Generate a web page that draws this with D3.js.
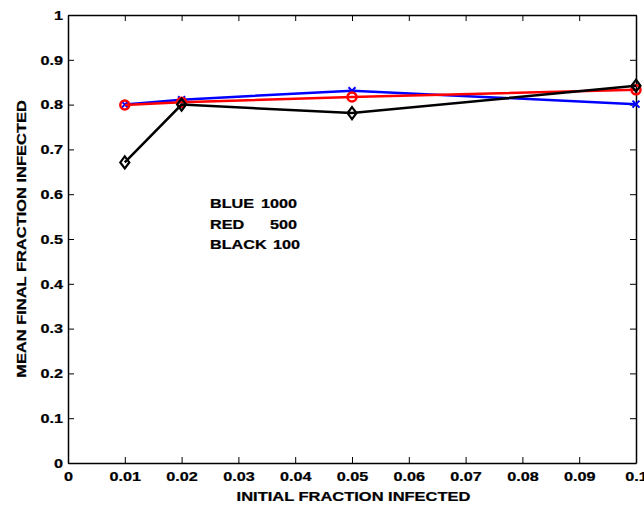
<!DOCTYPE html>
<html><head><meta charset="utf-8">
<script src="https://cdn.jsdelivr.net/npm/d3@7"></script>
<style>body{margin:0;background:#fff}svg{display:block}text{font-family:"Liberation Sans",Arial,sans-serif;font-weight:bold}</style>
</head><body>
<svg id="c" width="644" height="508"></svg>
<script>
const xValues = [0.01, 0.02, 0.05, 0.1];
const blueValues = [0.800, 0.811, 0.831, 0.801];
const redValues = [0.799, 0.805, 0.817, 0.833];
const blackValues = [0.671, 0.800, 0.781, 0.842];
const xTicks = [0,0.01,0.02,0.03,0.04,0.05,0.06,0.07,0.08,0.09,0.1];
const yTicks = [0,0.1,0.2,0.3,0.4,0.5,0.6,0.7,0.8,0.9,1];
const legendNames = ["BLUE", "RED", "BLACK"];
const legendCounts = ["1000", "500", "100"];

const svg = d3.select("#c");
const L=68, R=636, T=15, B=463;
const SX = 1.2;
const x = d3.scaleLinear().domain([0,0.1]).range([L,R]);
const y = d3.scaleLinear().domain([0,1]).range([B,T]);
const fmt = d => d===0?"0":(d===1?"1":String(+d.toFixed(2)));

const tl = 6;
const gx = svg.append("g").attr("transform",`translate(0,${B})`)
  .call(d3.axisBottom(x).tickValues(xTicks).tickFormat(fmt).tickSizeInner(-tl).tickSizeOuter(0).tickPadding(8));
const gy = svg.append("g").attr("transform",`translate(${L},0)`)
  .call(d3.axisLeft(y).tickValues(yTicks).tickFormat(fmt).tickSizeInner(-tl).tickSizeOuter(0).tickPadding(5));
const gt = svg.append("g").attr("transform",`translate(0,${T})`)
  .call(d3.axisTop(x).tickValues(xTicks).tickFormat("").tickSizeInner(-tl).tickSizeOuter(0));
const gr = svg.append("g").attr("transform",`translate(${R},0)`)
  .call(d3.axisRight(y).tickValues(yTicks).tickFormat("").tickSizeInner(-tl).tickSizeOuter(0));
[gx,gy,gt,gr].forEach(g=>{
  g.select(".domain").attr("stroke","#000").attr("stroke-width",1.5);
  g.selectAll(".tick line").attr("stroke","#000").attr("stroke-width",1);
  g.selectAll("text").attr("font-size",13.5).attr("fill","#000")
    .attr("stroke","#000").attr("stroke-width",0.25);
});
gx.selectAll(".tick text").attr("transform",`scale(${SX},1)`);
gy.selectAll(".tick text").attr("x",-5/SX).attr("transform",`scale(${SX},1)`);

const line = d3.line().x((d,i)=>x(xValues[i])).y(d=>y(d));
const series = [
  {vals: blueValues, color:"#0000ff", m:"x"},
  {vals: redValues, color:"#ff0000", m:"o"},
  {vals: blackValues, color:"#000000", m:"d"}
];
series.forEach(s=>{
  svg.append("path").datum(s.vals).attr("d",line).attr("fill","none")
    .attr("stroke",s.color).attr("stroke-width",2.5);
  s.vals.forEach((v,i)=>{
    const cx=x(xValues[i]), cy=y(v);
    if(s.m==="o") svg.append("circle").attr("cx",cx).attr("cy",cy).attr("r",4.5)
      .attr("fill","none").attr("stroke",s.color).attr("stroke-width",2.5);
    else if(s.m==="x") svg.append("path").attr("d",`M${cx-3.5},${cy-3.5}L${cx+3.5},${cy+3.5}M${cx-3.5},${cy+3.5}L${cx+3.5},${cy-3.5}`)
      .attr("stroke",s.color).attr("stroke-width",2);
    else svg.append("path").attr("d",`M${cx},${cy-6}L${cx+4.5},${cy}L${cx},${cy+6}L${cx-4.5},${cy}Z`)
      .attr("fill","none").attr("stroke",s.color).attr("stroke-width",2.2);
  });
});

const numRight = [297, 297, 300];
legendNames.forEach((t,i)=>{
  const by = 208 + i*20.5;
  svg.append("text").attr("transform",`translate(210,${by}) scale(${SX},1)`)
    .attr("font-size",13.5).attr("stroke","#000").attr("stroke-width",0.25).text(t);
  svg.append("text").attr("transform",`translate(${numRight[i]},${by}) scale(${SX},1)`)
    .attr("text-anchor","end").attr("font-size",13.5).attr("stroke","#000").attr("stroke-width",0.25).text(legendCounts[i]);
});

svg.append("text").attr("transform",`translate(${(238+469)/2},501) scale(1.22,1)`).attr("text-anchor","middle")
  .attr("font-size",13.5).attr("stroke","#000").attr("stroke-width",0.25).text("INITIAL FRACTION INFECTED");
svg.append("text").attr("transform",`translate(26,${(T+B)/2}) rotate(-90) scale(1.22,1)`).attr("text-anchor","middle")
  .attr("font-size",13.5).attr("stroke","#000").attr("stroke-width",0.25).text("MEAN FINAL FRACTION INFECTED");
</script>
</body></html>
